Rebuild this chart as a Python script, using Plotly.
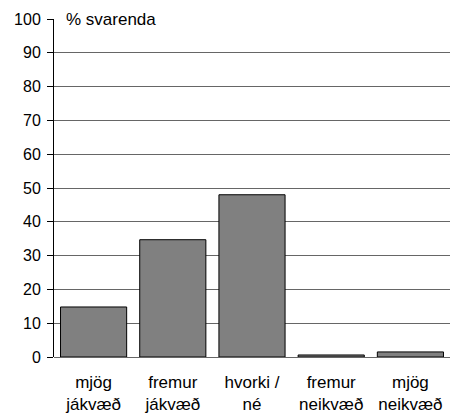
import plotly.graph_objects as go

categories = ["mjög<br>jákvæð", "fremur<br>jákvæð", "hvorki /<br>né", "fremur<br>neikvæð", "mjög<br>neikvæð"]
values = [14.8, 34.7, 48.0, 0.6, 1.5]
y_ticks = list(range(0, 101, 10))

fig = go.Figure()

fig.add_trace(
    go.Bar(
        x=categories,
        y=values,
        marker=dict(color="#808080", line=dict(color="#000000", width=1)),
        showlegend=False,
    )
)

# axis title sits on the top gridline with a white box behind it
fig.add_annotation(
    text="% svarenda",
    xref="paper", yref="y",
    x=0.01, y=100,
    xanchor="left", yanchor="middle",
    showarrow=False,
    bgcolor="white",
    borderpad=7,
    width=103,
    align="left",
    font=dict(size=17, color="black"),
)

fig.update_layout(
    width=450,
    height=419,
    margin=dict(l=54, r=0, t=19, b=62),
    plot_bgcolor="white",
    paper_bgcolor="white",
    font=dict(family="Liberation Sans, Arial, sans-serif", size=17, color="black"),
    bargap=0.165,
    xaxis=dict(
        showgrid=False,
        showline=False,
        ticks="",
        ticklabelstandoff=13,
    ),
    yaxis=dict(
        range=[0, 100],
        tickvals=y_ticks,
        showgrid=True,
        gridcolor="#666666",
        gridwidth=1,
        showline=True,
        linecolor="black",
        linewidth=1,
        ticks="outside",
        ticklen=6,
        tickcolor="black",
        ticklabelstandoff=3,
        tickfont=dict(size=16),
        zeroline=True,
        zerolinecolor="#666666",
        zerolinewidth=1,
    ),
)

fig.write_html(
    "out.html",
    config={"displayModeBar": False},
    post_script="document.body.style.margin='0';",
)
